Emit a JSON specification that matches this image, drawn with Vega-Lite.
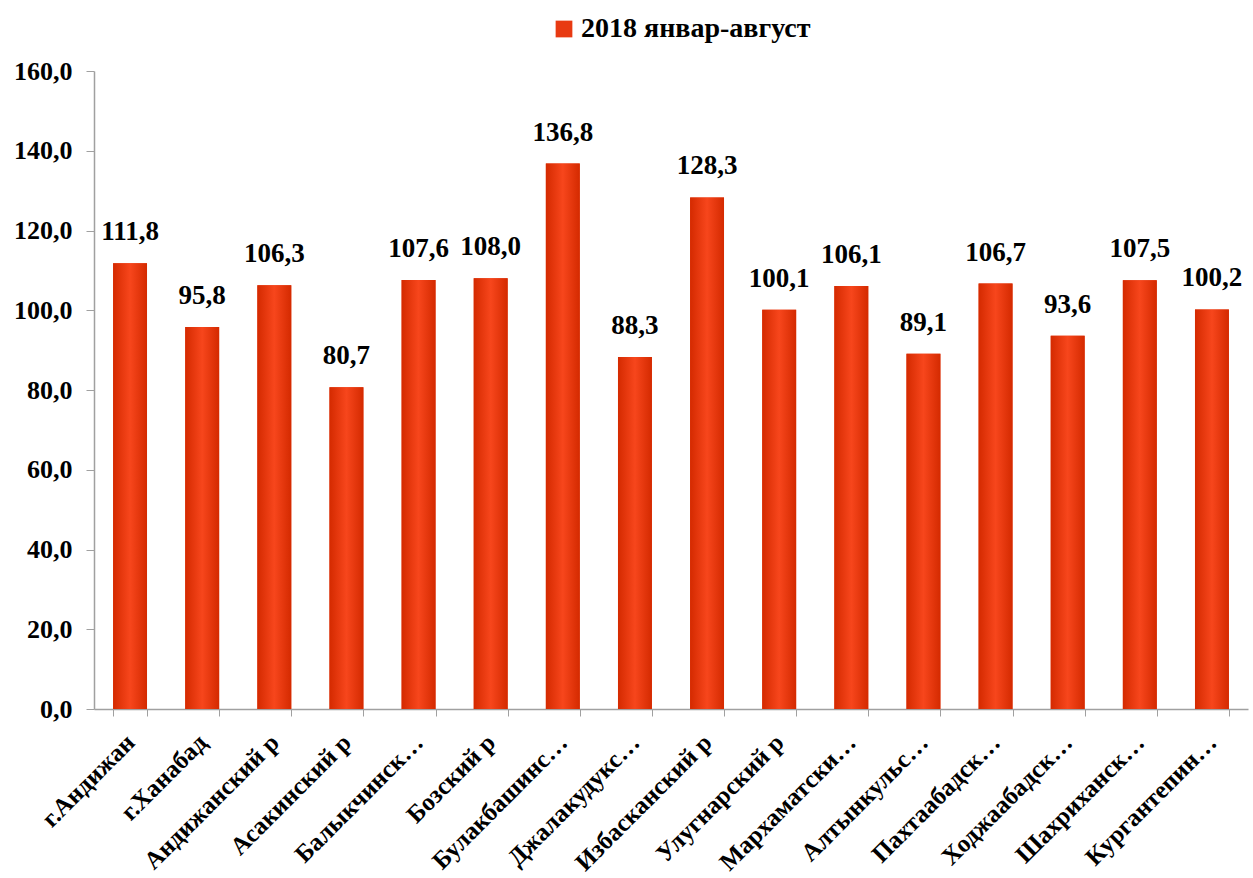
{
  "$schema": "https://vega.github.io/schema/vega-lite/v6.json",
  "width": 1154,
  "height": 638,
  "autosize": "none",
  "padding": {"left": 94, "top": 71, "right": 5, "bottom": 169},
  "background": "white",
  "data": {
    "values": [
      {"district": "г.Андижан", "value": 111.8, "series": "2018 январ-август"},
      {"district": "г.Ханабад", "value": 95.8, "series": "2018 январ-август"},
      {"district": "Андижанский р", "value": 106.3, "series": "2018 январ-август"},
      {"district": "Асакинский р", "value": 80.7, "series": "2018 январ-август"},
      {"district": "Балыкчинск…", "value": 107.6, "series": "2018 январ-август"},
      {"district": "Бозский р", "value": 108.0, "series": "2018 январ-август"},
      {"district": "Булакбашинс…", "value": 136.8, "series": "2018 январ-август"},
      {"district": "Джалакудукс…", "value": 88.3, "series": "2018 январ-август"},
      {"district": "Избасканский р", "value": 128.3, "series": "2018 январ-август"},
      {"district": "Улугнарский р", "value": 100.1, "series": "2018 январ-август"},
      {"district": "Мархаматски…", "value": 106.1, "series": "2018 январ-август"},
      {"district": "Алтынкульс…", "value": 89.1, "series": "2018 январ-август"},
      {"district": "Пахтаабадск…", "value": 106.7, "series": "2018 январ-август"},
      {"district": "Ходжаабадск…", "value": 93.6, "series": "2018 январ-август"},
      {"district": "Шахриханск…", "value": 107.5, "series": "2018 январ-август"},
      {"district": "Кургантепин…", "value": 100.2, "series": "2018 январ-август"}
    ]
  },
  "encoding": {
    "x": {
      "field": "district",
      "type": "nominal",
      "sort": null,
      "scale": {"paddingInner": 0.53, "paddingOuter": 0.265},
      "axis": {
        "title": null,
        "labelAngle": -45,
        "labelAlign": "right",
        "labelBaseline": "middle",
        "labelFont": "Liberation Serif, DejaVu Serif, serif",
        "labelFontWeight": "bold",
        "labelFontSize": 25,
        "labelColor": "black",
        "labelLimit": 400,
        "labelPadding": 22,
        "tickBand": "extent",
        "tickSize": 7,
        "tickColor": "#a0a0a0",
        "domainColor": "#a0a0a0",
        "domainWidth": 1.5
      }
    },
    "y": {
      "field": "value",
      "type": "quantitative",
      "scale": {"domain": [0, 160], "nice": false},
      "axis": {
        "title": null,
        "values": [0, 20, 40, 60, 80, 100, 120, 140, 160],
        "format": ".1f",
        "grid": false,
        "labelFont": "Liberation Serif, DejaVu Serif, serif",
        "labelFontWeight": "bold",
        "labelFontSize": 26,
        "labelColor": "black",
        "labelPadding": 14,
        "tickSize": 8,
        "tickColor": "#a0a0a0",
        "domainColor": "#a0a0a0",
        "domainWidth": 1.5
      }
    }
  },
  "layer": [
    {
      "mark": {"type": "bar"},
      "encoding": {
        "color": {
          "field": "series",
          "type": "nominal",
          "scale": {"range": ["#e83a12"]},
          "legend": {
            "title": null,
            "orient": "none",
            "legendX": 456,
            "legendY": -56,
            "symbolType": "square",
            "symbolSize": 280,
            "symbolStrokeWidth": 0,
            "symbolOffset": 0,
            "labelOffset": 3,
            "labelFont": "Liberation Serif, DejaVu Serif, serif",
            "labelFontWeight": "bold",
            "labelFontSize": 28,
            "labelColor": "black",
            "labelLimit": 500
          }
        }
      }
    },
    {
      "mark": {
        "type": "bar",
        "color": {
          "gradient": "linear", "x1": 0, "x2": 1, "y1": 0, "y2": 0,
          "stops": [
            {"offset": 0, "color": "#d42a00"},
            {"offset": 0.5, "color": "#f7461c"},
            {"offset": 1, "color": "#d42a00"}
          ]
        }
      },
      "encoding": {}
    },
    {
      "mark": {
        "type": "text",
        "baseline": "bottom",
        "dy": -17,
        "font": "Liberation Serif, DejaVu Serif, serif",
        "fontWeight": "bold",
        "fontSize": 27,
        "color": "black"
      },
      "encoding": {
        "text": {"field": "value", "type": "quantitative", "format": ".1f"}
      }
    }
  ],
  "config": {
    "view": {"stroke": null},
    "locale": {
      "number": {"decimal": ",", "thousands": " ", "grouping": [3], "currency": ["", ""]}
    }
  }
}
